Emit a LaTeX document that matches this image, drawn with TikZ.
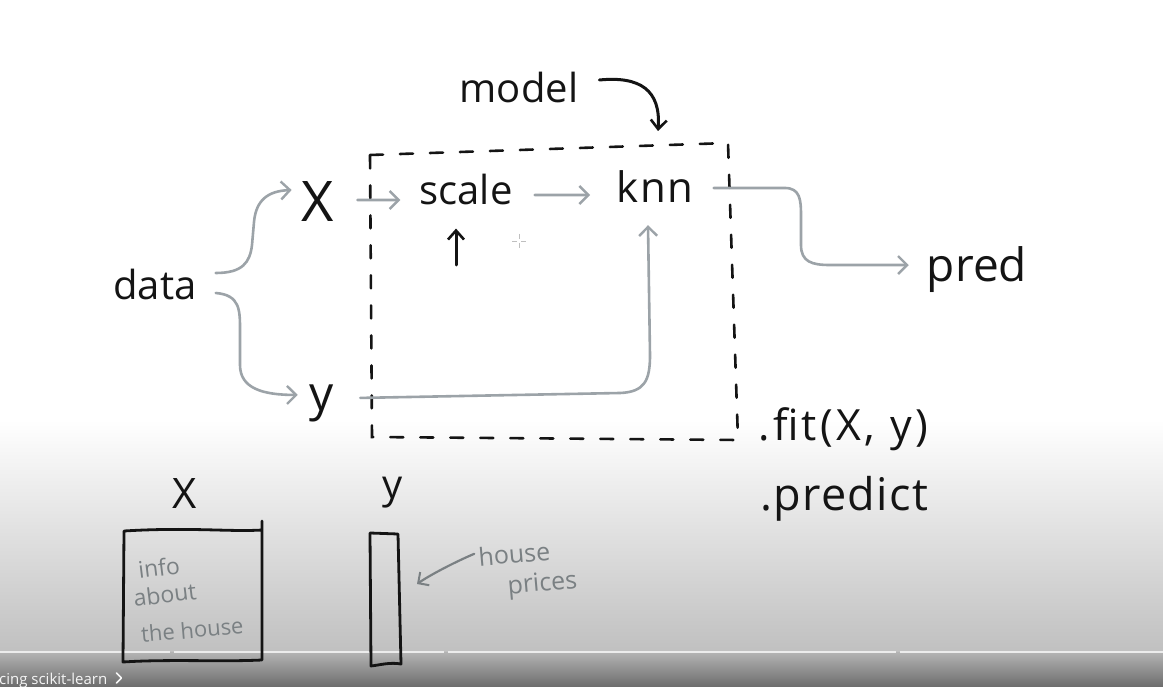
\documentclass[tikz,border=0pt]{standalone}
\usepackage{fontspec}
\setmainfont{Open Sans}
\usetikzlibrary{arrows.meta}
\definecolor{ink}{HTML}{141414}
\definecolor{pencil}{HTML}{9CA3A8}
\definecolor{note}{HTML}{7A8083}
\definecolor{fadeA}{HTML}{C0C0C0}
\definecolor{barA}{HTML}{B4B4B4}
\definecolor{barB}{HTML}{6C6C6C}
\tikzset{
  hand/.style={text=ink, inner sep=0pt, anchor=base},
  pnote/.style={text=note, inner sep=0pt, anchor=base, font=\fontsize{23}{23}\selectfont},
  tipg/.style={-{Straight Barb[length=9pt,width=18pt,line width=2.4pt]}},
  flow/.style={draw=pencil, line width=2.6pt, line cap=round, line join=round, tipg},
  inkarrow/.style={draw=ink, line width=3pt, line cap=round, -{Straight Barb[length=9pt,width=16pt,line width=2.6pt]}},
  dashbox/.style={draw=ink, line width=2.6pt, dash pattern=on 13pt off 17pt, line cap=round},
  sheet/.style={draw=ink, line width=2.8pt, line join=round, line cap=round},
}
\begin{document}
\begin{tikzpicture}[x=1pt,y=-1pt]
\useasboundingbox (0,0) rectangle (1163,687);
% background
\fill[white] (0,0) rectangle (1163,420);
\shade[top color=white, bottom color=fadeA] (0,420) rectangle (1163,652);
\shade[top color=barA, bottom color=barB] (0,652) rectangle (1163,687);
\draw[line width=2pt, draw=white!85!gray] (0,652) -- (170,652) (174,652) -- (444,652) (448,652) -- (896,652) (900,652) -- (1163,652);

% texts of the upper diagram
\node[hand, font=\fontsize{40}{40}\selectfont] (model) at (519,103) {model};
\node[hand, font=\fontsize{56}{56}\selectfont] (X) at (318,222) {X};
\node[hand, font=\fontsize{40}{40}\selectfont] (scale) at (466,205) {scale};
\node[hand, font=\fontsize{42}{42}\selectfont\addfontfeatures{LetterSpace=4}] (knn) at (655,203) {knn};
\node[hand, font=\fontsize{40}{40}\selectfont] (data) at (155,300) {data};
\node[hand, font=\fontsize{48}{48}\selectfont] (y) at (322,410) {y};
\node[hand, font=\fontsize{46}{46}\selectfont] (pred) at (977,282) {pred};
\node[hand, anchor=base west, font=\fontsize{43}{43}\selectfont\addfontfeatures{LetterSpace=8}] (fit) at (758,440) {.fit(X, y)};
\node[hand, anchor=base west, font=\fontsize{45}{45}\selectfont\addfontfeatures{LetterSpace=3}] (predict) at (760,510) {.predict};

% dashed model box
\draw[dashbox] (370,155) -- (728,143) -- (738,440) -- (372,437) -- cycle;

% model pointer
\coordinate (modeltip) at (658,131);
\draw[inkarrow] ([shift={(21,-8)}]model.east) .. controls (640,76) and (661,90) .. (modeltip);

% flows
\draw[flow] ([shift={(19,-12)}]data.east) .. controls (243,273) and (250,262) .. (252,245)
   -- (254,222) .. controls (256,200) and (268,191) .. ([shift={(-10,-12)}]X.west);
\draw[flow] ([shift={(19,8)}]data.east) .. controls (240,295) and (240,310) .. (240,330)
   -- (240,365) .. controls (240,388) and (262,395) .. ([shift={(-12,-8)}]y.west);
\draw[flow] ([shift={(23,-2)}]X.east) -- ([shift={(-19,10)}]scale.west);
\draw[flow] ([shift={(22,5)}]scale.east) -- (590,195);
\draw[flow] ([shift={(20,1)}]knn.east) -- (785,188) .. controls (800,188) and (801,200) .. (801,215)
   -- (801,245) .. controls (801,262) and (812,265) .. (830,265) -- ([shift={(-18,-5)}]pred.west);
\draw[flow] ([shift={(26,-5)}]y.east) -- (620,393) .. controls (645,392) and (650,380) .. (650,355)
   -- ([shift={(-7,22)}]knn.south);

% small black arrow under scale
\coordinate (uptail) at (456,265);
\draw[inkarrow] (uptail) -- ([shift={(-10,23)}]scale.south);

% cursor
\draw[gray!50, line width=0.6pt] (512,241) -- (517,241) (521,241) -- (526,241) (519,234) -- (519,239) (519,243) -- (519,248);

% lower part: X and y sheets
\node[hand, font=\fontsize{42}{42}\selectfont] (bX) at (185,508) {X};
\node[hand, font=\fontsize{40}{40}\selectfont] (by) at (393,498) {y};
\draw[sheet] (124,531) .. controls (190,527) and (230,532) .. (262,530)
   (262,521) -- (262,660) .. controls (220,662) and (170,659) .. (123,662) -- (124,531);
\draw[sheet] (370,533) -- (398,534) -- (401,664) .. controls (390,662) and (380,665) .. (371,666) -- (370,533);
\coordinate (ysheet) at (417,584);
\node[pnote, rotate=7] (info) at (160,576) {info};
\node[pnote, rotate=7] (about) at (166,603) {about};
\node[pnote, rotate=5, font=\fontsize{22}{22}\selectfont] (house) at (193,638) {the house};

\node[pnote, rotate=5, font=\fontsize{25}{25}\selectfont] (hp1) at (515,563) {house};
\node[pnote, rotate=5, font=\fontsize{25}{25}\selectfont] (hp2) at (543,591) {prices};
\draw[draw=note, line width=2.2pt, line cap=round, -{Straight Barb[length=8pt,width=16pt,line width=2pt]}]
  ([shift={(-4,-3)}]hp1.west) .. controls (455,562) and (430,575) .. (ysheet);

% overlay caption
\node[anchor=base west, inner sep=0pt, text=white!92!gray, font=\fontsize{15}{15}\selectfont] (cap) at (-1,684) {cing scikit-learn};
\draw[white!92!gray, line width=1.6pt, line cap=round, line join=round] ([shift={(9,-11)}]cap.base east) -- ++(5,5) -- ++(-5,5);
\end{tikzpicture}
\end{document}
